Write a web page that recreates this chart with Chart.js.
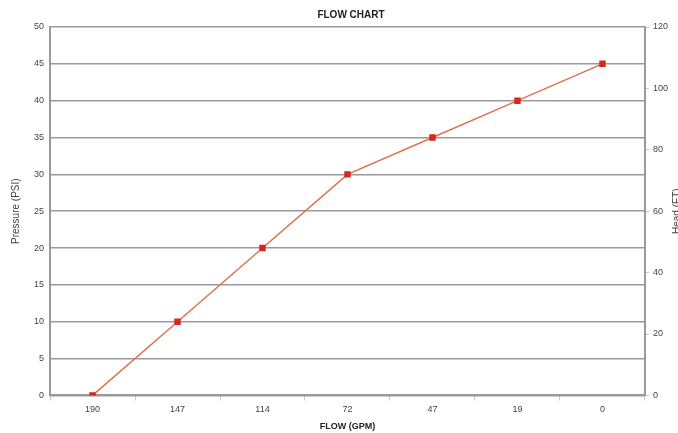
<!DOCTYPE html>
<html>
<head>
<meta charset="utf-8">
<script src="https://cdn.jsdelivr.net/npm/chart.js@4"></script>
<style>
  html, body { margin: 0; padding: 0; background: #fff; }
  #wrap { width: 678px; height: 433px; }
</style>
</head>
<body>
<div id="wrap"><canvas id="flowChart" width="678" height="433"></canvas></div>
<script>
const flowLabels = ['190', '147', '114', '72', '47', '19', '0']
const pressureValues = [0, 10, 20, 30, 35, 40, 45]

const gray = '#9a9a9a'
const textColor = '#444'

Chart.defaults.font.family = '"Liberation Sans", Arial, sans-serif'
Chart.defaults.font.size = 9

// the right axis title reads bottom-to-top in the original (chart.js turns it the other way)
const headTitle = {
    id: 'headTitle',
    afterDraw(chart) {
        const c = chart.ctx
        const area = chart.chartArea
        c.save()
        c.translate(672, (area.top + area.bottom) / 2)
        c.rotate(-Math.PI / 2)
        c.fillStyle = textColor
        c.font = '10px "Liberation Sans", Arial, sans-serif'
        c.textAlign = 'center'
        c.textBaseline = 'top'
        c.fillText('Head (FT)', 0, 0)
        c.restore()
    }
}

const ctx = document.getElementById('flowChart')

new Chart(ctx, {
    type: 'line',
    data: {
        labels: flowLabels,
        datasets: [{
            label: 'Pressure',
            data: pressureValues,
            borderColor: '#e0714f',
            borderWidth: 1.5,
            pointStyle: 'rect',
            pointRadius: 3.5,
            pointBackgroundColor: '#d42a1e',
            pointBorderColor: '#d42a1e',
            tension: 0,
            yAxisID: 'y'
        }]
    },
    options: {
        responsive: false,
        animation: false,
        // right side is cut off in the original, the axis title runs off the edge
        layout: { padding: { top: 7, left: 10, right: -14, bottom: 1 } },
        plugins: {
            legend: { display: false },
            tooltip: { enabled: false },
            title: {
                display: true,
                text: 'FLOW CHART',
                color: '#222',
                font: { size: 10, weight: 'bold' },
                padding: { top: 2, bottom: 6 }
            }
        },
        scales: {
            x: {
                offset: true,
                grid: {
                    drawOnChartArea: false,
                    drawTicks: true,
                    tickLength: 5,
                    color: '#c8c8c8',
                    offset: true
                },
                border: { color: gray, width: 2 },
                ticks: { color: textColor, padding: 4, maxRotation: 0 },
                title: {
                    display: true,
                    text: 'FLOW (GPM)',
                    color: '#222',
                    font: { size: 9, weight: 'bold' },
                    padding: { top: 2, bottom: 0 }
                }
            },
            y: {
                position: 'left',
                min: 0,
                max: 50,
                ticks: { stepSize: 5, color: textColor, padding: 6 },
                grid: { color: gray, lineWidth: 1.5, drawTicks: false },
                border: { color: gray, width: 2 },
                title: {
                    display: true,
                    text: 'Pressure (PSI)',
                    color: textColor,
                    font: { size: 10 },
                    padding: { top: 0, bottom: 6 }
                }
            },
            y2: {
                position: 'right',
                min: 0,
                max: 120,
                ticks: { stepSize: 20, color: textColor, padding: 4 },
                grid: { drawOnChartArea: false, tickLength: 4, color: '#c8c8c8' },
                border: { color: gray, width: 2 },
                title: {
                    // kept only to hold the space, drawn by headTitle
                    display: true,
                    text: 'Head (FT)',
                    color: 'rgba(0,0,0,0)',
                    font: { size: 10 },
                    padding: { top: 8, bottom: 0 }
                }
            }
        }
    },
    plugins: [headTitle]
})
</script>
</body>
</html>
